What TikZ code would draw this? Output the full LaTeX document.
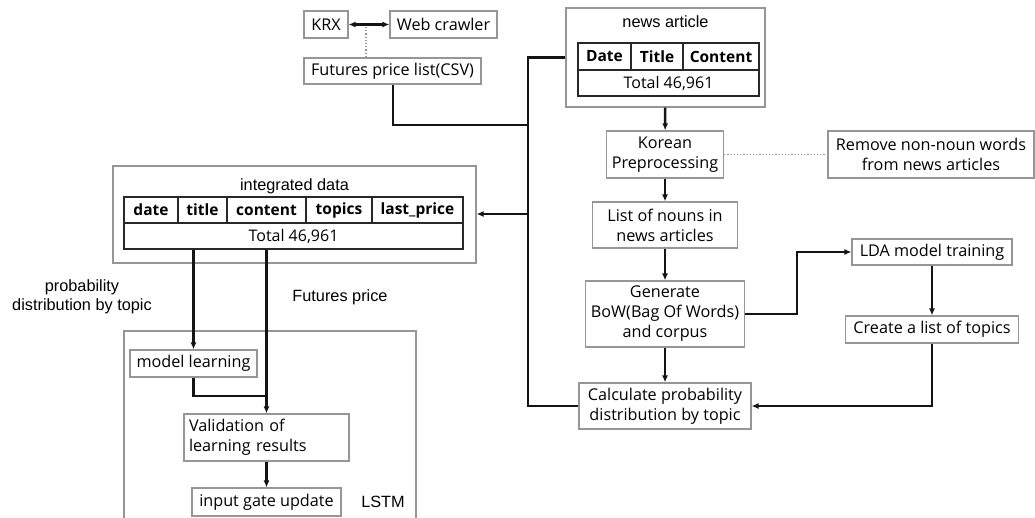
\documentclass[tikz,border=0pt]{standalone}
\usepackage{fontspec}
\setmainfont{Open Sans}
\newfontfamily\arialfont{Liberation Sans}
\usetikzlibrary{arrows.meta}

\definecolor{boxgray}{RGB}{150,150,150}
\definecolor{cellline}{RGB}{40,40,40}
\definecolor{connline}{RGB}{20,20,20}

\tikzset{every picture/.style={line width=1pt}}
\tikzset{
  box/.style={draw=boxgray, line width=1.2pt, inner sep=2pt, align=center, font=\fontsize{16.2}{20}\selectfont},
  cell/.style={draw=cellline, line width=1.5pt, inner sep=0pt, font=\fontsize{16}{18}\selectfont},
  hcell/.style={cell, font=\fontsize{15.5}{18}\selectfont\bfseries},
  frame/.style={draw=boxgray, line width=1.2pt},
  lbl/.style={font=\arialfont\fontsize{16.3}{19}\selectfont, align=center, inner sep=0pt},
  conn/.style={draw=connline, line width=2.5pt},
  arr/.style={conn, -{Latex[length=7pt,width=6pt]}},
  dblarr/.style={conn, {Latex[length=7pt,width=6pt]}-{Latex[length=7pt,width=6pt]}},
  dotline/.style={draw=boxgray, line width=1.2pt, dotted}
}

\begin{document}
\begin{tikzpicture}[x=1pt,y=1pt,yscale=-1,xscale=1]
	\useasboundingbox (0,0) rectangle (1035,517);

	% Futures price source
	\node[box, minimum width=44, minimum height=27] (krx) at (326,24.5) {KRX};
	\node[box, minimum width=107, minimum height=27] (web) at (443.5,24.5) {Web crawler};
	\node[box, minimum width=177, minimum height=26] (csv) at (392.5,71) {Futures price list(CSV)};

	% news article table
	\node[frame, minimum width=199, minimum height=99] (news) at (665.5,57.5) {};
	\node[lbl] (newstitle) at (665.5,22) {news article};
	\node[hcell, minimum width=53, minimum height=27] (ndate) at (604.5,56.5) {Date};
	\node[hcell, minimum width=52, minimum height=27] (ntitle) at (657,56.5) {Title};
	\node[hcell, minimum width=76, minimum height=27] (ncontent) at (721,56.5) {Content};
	\node[cell, minimum width=181, minimum height=26] (ntotal) at (668.5,83) {Total 46,961};

	% text processing chain
	\node[box, minimum width=117, minimum height=47] (kor) at (665,154.5) {Korean\\Preprocessing};
	\node[box, minimum width=206, minimum height=47] (remove) at (931,154.5) {Remove non-noun words\\from news articles};
	\node[box, minimum width=145, minimum height=46] (nouns) at (665,225) {List of nouns in\\news articles};
	\node[box, minimum width=159, minimum height=66] (bow) at (665,314) {Generate\\BoW(Bag Of Words)\\and corpus};
	\node[box, minimum width=172, minimum height=46] (calc) at (665,406) {Calculate probability\\distribution by topic};
	\node[box, minimum width=160, minimum height=26] (lda) at (932,252) {LDA model training};
	\node[box, minimum width=173, minimum height=27] (topics) at (932,329.5) {Create a list of topics};

	% integrated data table
	\node[frame, minimum width=363, minimum height=97] (integ) at (294.5,214.5) {};
	\node[lbl] (integtitle) at (294.5,186) {integrated data};
	\node[hcell, minimum width=54, minimum height=26] (idate) at (151,210) {date};
	\node[hcell, minimum width=49, minimum height=26] (ititle) at (202.5,210) {title};
	\node[hcell, minimum width=79, minimum height=26] (icontent) at (266.5,210) {content};
	\node[hcell, minimum width=66, minimum height=26] (itopics) at (339,210) {topics};
	\node[hcell, minimum width=91, minimum height=26] (iprice) at (417.5,210) {last\_price};
	\node[cell, minimum width=339, minimum height=26] (itotal) at (293.5,236) {Total 46,961};

	% LSTM part
	\draw[frame] (124,520) -- (124,331) -- (416,331) -- (416,520);
	\node[box, minimum width=127, minimum height=27] (model) at (193.5,363.5) {model learning};
	\node[box, minimum width=165, minimum height=47, text width=155, align=left] (valid) at (266.5,437.5) {Validation of\\learning results};
	\node[box, minimum width=149, minimum height=28] (gate) at (266.5,502) {input gate update};
	\node[lbl] (lstm) at (383,502) {LSTM};

	% Text Node
	\node[lbl] (problbl) at (82,297) {probability\\distribution by topic};
	\node[lbl] (pricelbl) at (340,297) {Futures price};

	% connectors
	\coordinate (bus) at (528,214);
	\coordinate (j1) at (528,125);
	\coordinate (j2) at (266.5,396);
	\draw[dblarr] (krx) -- (web);
	\draw[dotline] (366,27) -- (366,58);
	\draw[conn] (csv.south -| 393,0) |- (j1);
	\draw[conn] (news.west) -| (bus) |- (calc.west);
	\draw[arr] (bus) -- (integ.east |- bus);
	\draw[arr] (news) -- (kor);
	\draw[dotline] (kor) -- (remove);
	\draw[arr] (kor) -- (nouns);
	\draw[arr] (nouns) -- (bow);
	\draw[arr] (bow) -- (calc);
	\draw[arr] (bow.east) -- ++(52,0) |- (lda.west);
	\draw[arr] (lda) -- (topics);
	\draw[arr] (topics.south) |- (calc.east);
	\draw[arr] (itotal.south -| model) -- (model);
	\draw[arr] (itotal.south -| valid) -- (valid);
	\draw[conn] (model.south) |- (j2);
	\draw[arr] (valid) -- (gate);

\end{tikzpicture}
\end{document}
